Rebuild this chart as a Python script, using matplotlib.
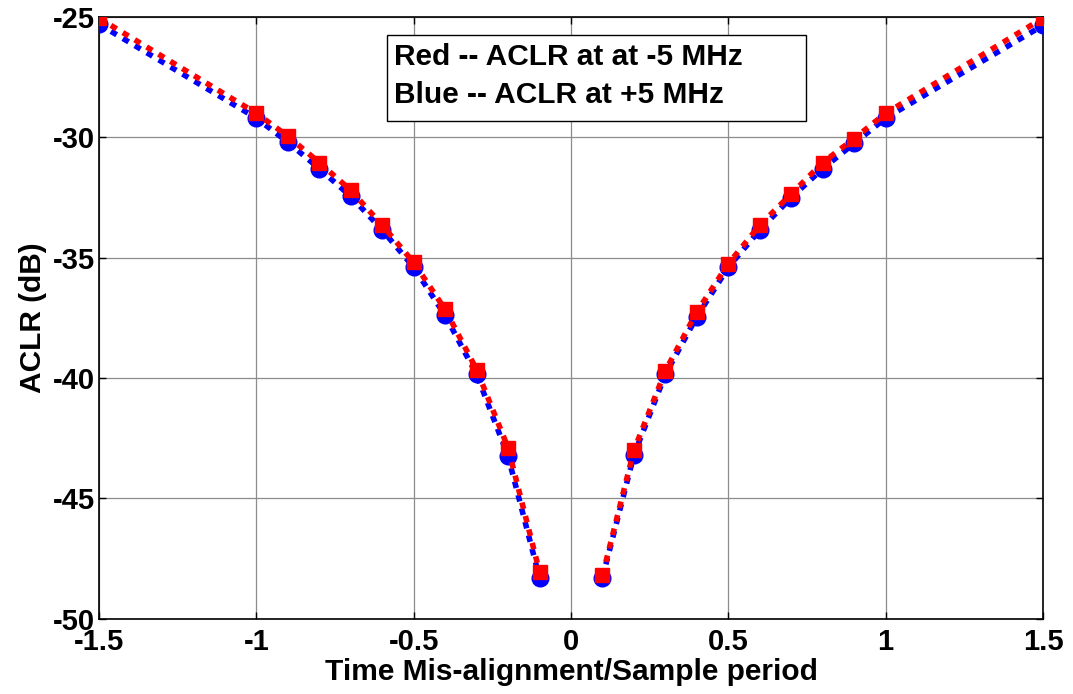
import numpy as np
import matplotlib
matplotlib.use("Agg")
import matplotlib.pyplot as plt
from matplotlib.patches import Rectangle

# Data
offset = [-1.5, -1.0, -0.9, -0.8, -0.7, -0.6, -0.5, -0.4, -0.3, -0.2, -0.1,
          0.1, 0.2, 0.3, 0.4, 0.5, 0.6, 0.7, 0.8, 0.9, 1.0, 1.5]
aclr_minus5 = [-25.05, -29.0, -29.95, -31.05, -32.2, -33.65, -35.2, -37.15, -39.65, -42.9, -48.05,
               -48.2, -43.0, -39.7, -37.25, -35.25, -33.65, -32.35, -31.05, -30.05, -29.0, -25.05]
aclr_plus5 = [-25.3, -29.2, -30.2, -31.3, -32.45, -33.85, -35.4, -37.4, -39.85, -43.25, -48.3,
              -48.3, -43.2, -39.85, -37.45, -35.4, -33.85, -32.5, -31.3, -30.25, -29.2, -25.35]
xticks = [-1.5, -1, -0.5, 0, 0.5, 1, 1.5]
xticklabels = ["-1.5", "-1", "-0.5", "0", "0.5", "1", "1.5"]
yticks = [-50, -45, -40, -35, -30, -25]
yticklabels = ["-50", "-45", "-40", "-35", "-30", "-25"]

plt.rcParams['font.family'] = ['Liberation Sans', 'DejaVu Sans']
plt.rcParams['font.weight'] = 'bold'

fig = plt.figure(figsize=(10.73, 6.94), dpi=100)
ax = fig.add_axes([0.0923, 0.1085, 0.8797, 0.867])

x = np.array(offset)
yr = np.array(aclr_minus5)
yb = np.array(aclr_plus5)
neg = x < 0
pos = x > 0

for mask in (neg, pos):
    ax.plot(x[mask], yb[mask], color=(0, 0, 1), lw=4, dashes=(1.2, 1.3),
            marker='o', ms=12, mec=(0, 0, 1), mfc=(0, 0, 1), zorder=3,
            dash_capstyle='butt')
for mask in (neg, pos):
    ax.plot(x[mask], yr[mask], color=(1, 0, 0), lw=4, dashes=(1.2, 1.3),
            marker='s', ms=10.5, mec=(1, 0, 0), mfc=(1, 0, 0), zorder=4,
            dash_capstyle='butt')

ax.set_xlim(-1.5, 1.5)
ax.set_ylim(-50, -25)
ax.set_xticks(xticks)
ax.set_xticklabels(xticklabels)
ax.set_yticks(yticks)
ax.set_yticklabels(yticklabels)
ax.tick_params(direction='in', length=5, width=1, labelsize=21,
               top=True, right=True)
ax.tick_params(axis='x', pad=7)
ax.tick_params(axis='y', pad=3)
for lab in ax.get_xticklabels() + ax.get_yticklabels():
    lab.set_fontweight('bold')
ax.grid(True, color='#8c8c8c', lw=0.9)
ax.set_axisbelow(True)
for s in ax.spines.values():
    s.set_linewidth(1.2)
    s.set_color('black')

ax.set_xlabel('Time Mis-alignment/Sample period', fontsize=21.5, fontweight='bold', labelpad=1)
ax.set_ylabel('ACLR (dB)', fontsize=21.5, fontweight='bold', labelpad=4)

# Annotation box
ax.add_patch(Rectangle((0.3055, 0.8275), 0.4435, 0.142, transform=ax.transAxes,
                       facecolor='white', edgecolor='black', lw=1.0, zorder=5))
ax.text(0.312, 0.933, 'Red -- ACLR at at -5 MHz', transform=ax.transAxes,
        fontsize=21.5, fontweight='bold', va='center', ha='left', zorder=6)
ax.text(0.312, 0.870, 'Blue -- ACLR at +5 MHz', transform=ax.transAxes,
        fontsize=21.5, fontweight='bold', va='center', ha='left', zorder=6)

fig.savefig('out.png', dpi=100)
